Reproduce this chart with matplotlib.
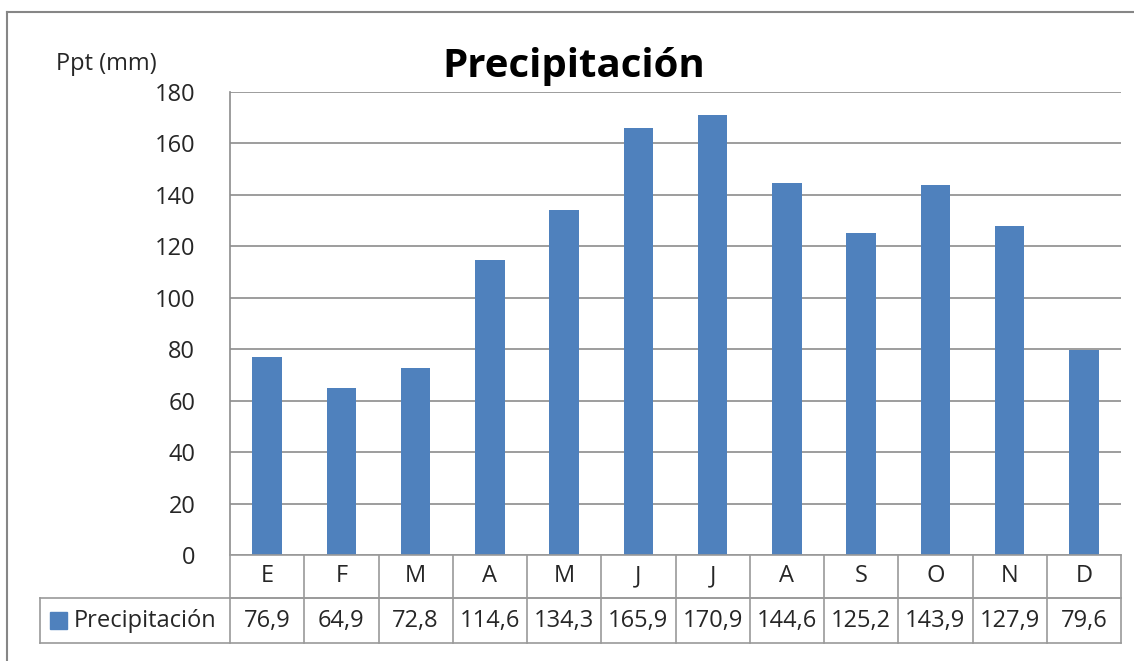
import matplotlib
matplotlib.use('Agg')
import matplotlib.pyplot as plt
from matplotlib.lines import Line2D
from matplotlib.patches import Rectangle

months = ['E', 'F', 'M', 'A', 'M', 'J', 'J', 'A', 'S', 'O', 'N', 'D']
ppt = [76.9, 64.9, 72.8, 114.6, 134.3, 165.9, 170.9, 144.6, 125.2, 143.9, 127.9, 79.6]
yticks = [0, 20, 40, 60, 80, 100, 120, 140, 160, 180]
series_name = 'Precipitación'

plt.rcParams['font.family'] = ['Open Sans', 'DejaVu Sans']
W, H = 1134, 661
fig = plt.figure(figsize=(W / 100, H / 100), dpi=100)

# plot area in pixels
L, R, T, B = 230, 1121, 92, 555
ax = fig.add_axes([L / W, 1 - B / H, (R - L) / W, (B - T) / H])

blue = '#4F81BD'
grid = '#8c8c8c'
txt = '#262626'
fs = 17

x = list(range(len(months)))
ax.bar(x, ppt, width=0.4, color=blue, zorder=3)
ax.set_xlim(-0.5, len(months) - 0.5)
ax.set_ylim(0, 180)
ax.set_yticks(yticks)
ax.set_yticklabels([str(v) for v in yticks], fontsize=fs, color=txt)
ax.tick_params(axis='y', length=0, pad=25)
ax.set_xticks([])
ax.yaxis.grid(True, color=grid, linewidth=1.2, zorder=0)
for s in ['top', 'right', 'bottom']:
    ax.spines[s].set_visible(False)
ax.spines['left'].set_color(grid)
ax.spines['left'].set_linewidth(1.2)

# data table under the plot (axes fraction for y)
h1 = (598 - B) / (B - T)
h2 = (643 - 598) / (B - T)
tx = ax.get_xaxis_transform()
tbl = dict(color='#9a9a9a', linewidth=1.2, clip_on=False, transform=tx, zorder=4)
xl = (40 - L) / (R - L) * len(months) - 0.5  # left end of the value row
ax.plot([-0.5, 11.5], [0, 0], **tbl)
ax.plot([-0.5, 11.5], [-h1, -h1], **tbl)
ax.plot([xl, 11.5], [-h1, -h1], **tbl)
ax.plot([xl, 11.5], [-h1 - h2, -h1 - h2], **tbl)
ax.plot([xl, xl], [-h1, -h1 - h2], **tbl)
for i in range(len(months) + 1):
    ax.plot([i - 0.5, i - 0.5], [0, -h1 - h2], **tbl)

for i, (m, v) in enumerate(zip(months, ppt)):
    ax.text(i, -h1 / 2, m, ha='center', va='center', fontsize=fs, color=txt,
            transform=tx, clip_on=False)
    ax.text(i, -h1 - h2 / 2, f'{v:.1f}'.replace('.', ','), ha='center', va='center',
            fontsize=fs, color=txt, transform=tx, clip_on=False)

# legend key in the table row
fig.add_artist(Rectangle((50 / W, 1 - 629 / H), 17 / W, 17 / H, color=blue,
                         transform=fig.transFigure))
fig.text(74 / W, 1 - 621 / H, series_name, ha='left', va='center', fontsize=fs, color=txt)

# title and axis label
fig.text(574 / W, 1 - 66 / H, series_name, ha='center', va='center', fontsize=29,
         fontweight='bold', color='black')
fig.text(56 / W, 1 - 64 / H, 'Ppt (mm)', ha='left', va='center', fontsize=fs, color=txt)

# outer chart border (clipped at right and bottom)
fig.add_artist(Line2D([7 / W, 7 / W], [0, 1 - 12 / H], color='#868686', linewidth=1.5,
                      transform=fig.transFigure))
fig.add_artist(Line2D([7 / W, 1], [1 - 12 / H, 1 - 12 / H], color='#868686', linewidth=1.5,
                      transform=fig.transFigure))

fig.savefig('out.png', dpi=100)
